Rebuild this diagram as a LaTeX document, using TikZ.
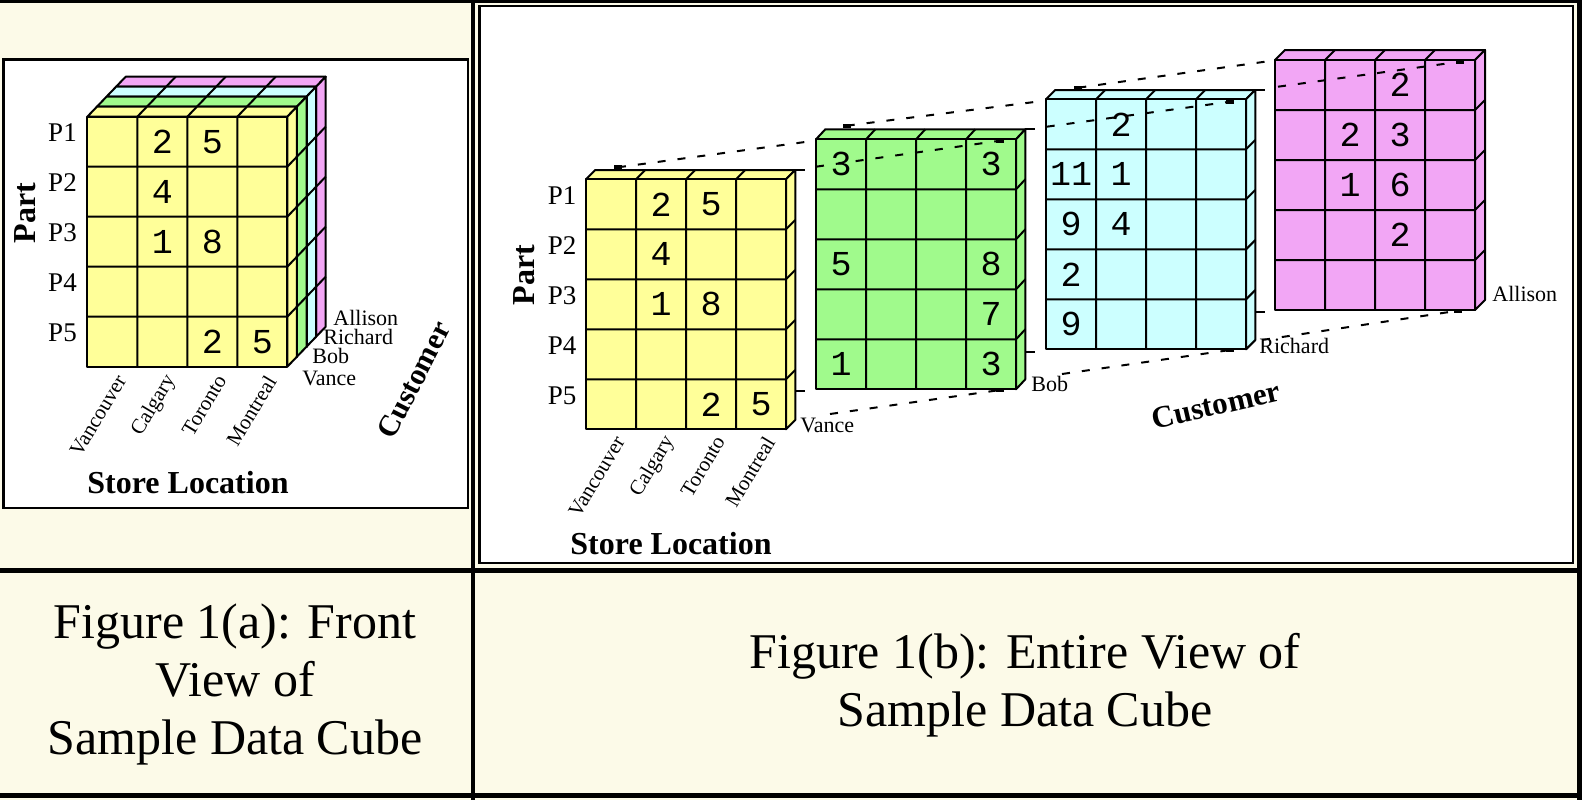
\documentclass[tikz,border=0pt]{standalone}
\usepackage{fontspec}
\setmainfont{Liberation Serif}
\newfontfamily\cellfont{Liberation Mono}
\definecolor{paper}{RGB}{252,250,232}
\definecolor{cubeyellow}{RGB}{255,255,153}
\definecolor{cubegreen}{RGB}{160,250,140}
\definecolor{cubecyan}{RGB}{204,255,255}
\definecolor{cubemagenta}{RGB}{242,166,245}

\begin{document}
\begin{tikzpicture}[x=0.5pt, y=-0.5pt,
    slabline/.style={line width=1pt, line join=round},
    cellnum/.style={font=\cellfont\fontsize{17.5}{20}\selectfont, inner sep=0pt},
    partlbl/.style={font=\fontsize{13.5}{16}\selectfont, inner sep=0pt},
    custlbl/.style={font=\fontsize{11}{13}\selectfont, inner sep=0pt, anchor=west},
    citylbl/.style={font=\fontsize{10.5}{12}\selectfont, inner sep=0pt, anchor=east, rotate=59},
    axislbl/.style={font=\bfseries\fontsize{16}{19}\selectfont, inner sep=0pt},
    cubedash/.style={line width=1pt, dash pattern=on 4pt off 6pt},
    captionlbl/.style={font=\fontsize{25}{29}\selectfont, align=center, inner sep=0pt}]
    \useasboundingbox (0,0) rectangle (1582,800);

    % Table and panels
    \fill[paper] (0,0) rectangle (1582,800);
    \draw[line width=1.25pt, fill=white] (3.3,59.7) rectangle (468,507.8);
    \draw[line width=1.25pt, fill=white] (479.5,6) rectangle (1573,563);
    \draw[line width=2pt] (473,0) -- (473,800);
    \draw[line width=2.2pt] (0,570.5) -- (1582,570.5);
    \draw[line width=1.5pt] (0,1.5) -- (1582,1.5);
    \draw[line width=2.5pt] (1579.5,0) -- (1579.5,800);
    \draw[line width=2.5pt] (0,795.5) -- (1582,795.5);

    % Slabs: front view (back to front), then the four customers
    \foreach \sx/\sy/\dx/\dy/\fillc in {
        116.1/86.7/9.6/-10/cubemagenta, 106.5/96.7/9.6/-10/cubecyan,
        96.9/106.7/9.6/-10/cubegreen, 87.3/116.7/9.6/-10/cubeyellow,
        586/179.3/9.3/-9.3/cubeyellow, 816/139.3/9.3/-10/cubegreen,
        1046/99.3/9.3/-9.3/cubecyan, 1275/60/10/-10/cubemagenta} {
      \begin{scope}[shift={(\sx,\sy)}]
        \filldraw[slabline, fill=\fillc] (0,0) -- (200,0) -- ++(\dx,\dy) -- ++(-200,0) -- cycle;
        \filldraw[slabline, fill=\fillc] (200,0) -- (200,250) -- ++(\dx,\dy) -- ++(0,-250) -- cycle;
        \filldraw[slabline, fill=\fillc] (0,0) rectangle (200,250);
        \foreach \i in {1,2,3}
          \draw[slabline] (50*\i,0) -- (50*\i,250) (50*\i,0) -- ++(\dx,\dy);
        \foreach \j in {1,...,4}
          \draw[slabline] (0,50*\j) -- (200,50*\j) -- ++(\dx,\dy);
      \end{scope}
    }

    % Ticks beside the customer slabs
    \foreach \tx/\ty/\by in {795.3/170/390.7, 1025.3/129.3/351.7, 1255.3/90/311.7}
      \draw[slabline] (\tx,\ty) -- ++(10,0) (\tx,\by) -- ++(10,0);

    % Dashed guide lines
    \coordinate (vance-top) at (618,167.3);
    \coordinate (vance-gap) at (805,142);
    \coordinate (bob-in) at (816,166.7);
    \coordinate (bob-end) at (1000,140.7);
    \coordinate (bob-top) at (846.7,125.7);
    \coordinate (bob-gap) at (1036.7,101.7);
    \coordinate (richard-in) at (1046.7,126.7);
    \coordinate (richard-end) at (1230,101.7);
    \coordinate (richard-top) at (1078.3,87.7);
    \coordinate (richard-gap) at (1265,61.7);
    \coordinate (allison-in) at (1278,86.7);
    \coordinate (allison-end) at (1460,61.7);
    \coordinate (vance-low) at (830,414);
    \coordinate (bob-low) at (1000,390);
    \coordinate (bob-foot) at (1062,374);
    \coordinate (richard-low) at (1230,350);
    \coordinate (richard-foot) at (1262,340);
    \coordinate (allison-low) at (1458,310.7);
    \draw[cubedash] (vance-top) -- (vance-gap);
    \draw[cubedash] (bob-in) -- (bob-end);
    \draw[cubedash] (bob-top) -- (bob-gap);
    \draw[cubedash] (richard-in) -- (richard-end);
    \draw[cubedash] (richard-top) -- (richard-gap);
    \draw[cubedash] (allison-in) -- (allison-end);
    \draw[cubedash] (vance-low) -- (bob-low);
    \draw[cubedash] (bob-foot) -- (richard-low);
    \draw[cubedash] (richard-foot) -- (allison-low);
    \foreach \b in {vance-top, bob-end, bob-top, richard-end, richard-top, allison-end,
                    bob-low, richard-low, allison-low}
      \fill (\b) ++(-4,-2) rectangle ++(8,4);

    % Cell values
    \foreach \r/\k/\v in {1/2/2, 1/3/5, 2/2/4, 3/2/1, 3/3/8, 5/3/2, 5/4/5} {
      \node[cellnum] (front-\r-\k) at ({87.3+50*\k-25},{116.7+50*\r-25}) {\v};
      \node[cellnum] (vance-\r-\k) at ({586+50*\k-25},{179.3+50*\r-25}) {\v};
    }
    \foreach \r/\k/\v in {1/1/3, 1/4/3, 3/1/5, 3/4/8, 4/4/7, 5/1/1, 5/4/3}
      \node[cellnum] (bob-\r-\k) at ({816+50*\k-25},{139.3+50*\r-25}) {\v};
    \foreach \r/\k/\v in {1/2/2, 2/1/11, 2/2/1, 3/1/9, 3/2/4, 4/1/2, 5/1/9}
      \node[cellnum] (richard-\r-\k) at ({1046+50*\k-25},{99.3+50*\r-25}) {\v};
    \foreach \r/\k/\v in {1/3/2, 2/2/2, 2/3/3, 3/2/1, 3/3/6, 4/3/2}
      \node[cellnum] (allison-\r-\k) at ({1275+50*\k-25},{60+50*\r-25}) {\v};

    % Part labels
    \foreach \r in {1,...,5} {
      \node[partlbl] (pa-\r) at (62.5,{116.7+50*\r-34}) {P\r};
      \node[partlbl] (pb-\r) at (562,{179.3+50*\r-34}) {P\r};
    }

    % Store location labels
    \foreach \k/\city in {1/Vancouver, 2/Calgary, 3/Toronto, 4/Montreal} {
      \node[citylbl] (citya-\k) at ({87.3+50*\k-16},377) {\city};
      \node[citylbl] (cityb-\k) at ({586+50*\k-16},438) {\city};
    }

    % Customer labels
    \node[custlbl] (allison-a) at (333,318) {Allison};
    \node[custlbl] (richard-a) at (323,337) {Richard};
    \node[custlbl] (bob-a) at (312,356) {Bob};
    \node[custlbl] (vance-a) at (302,378) {Vance};
    \node[custlbl] (vance-b) at (800,425) {Vance};
    \node[custlbl] (bob-b) at (1031,384) {Bob};
    \node[custlbl] (richard-b) at (1259,346) {Richard};
    \node[custlbl] (allison-b) at (1492,294) {Allison};

    % Axis titles
    \node[axislbl, rotate=90] (part-a) at (25,213) {Part};
    \node[axislbl] (store-a) at (188,483) {Store Location};
    \node[axislbl, font=\bfseries\fontsize{15}{18}\selectfont, rotate=63] (cust-a) at (414,380) {Customer};
    \node[axislbl, rotate=90] (part-b) at (524,275) {Part};
    \node[axislbl] (store-b) at (671,544) {Store Location};
    \node[axislbl, font=\bfseries\fontsize{15.5}{18}\selectfont, rotate=13] (cust-b) at (1216,405) {Customer};

    % Captions
    \node[captionlbl] (cap-a) at (235,684) {Figure 1(a): Front\\View of\\Sample Data Cube};
    \node[captionlbl] (cap-b) at (1025,685) {Figure 1(b): Entire View of\\Sample Data Cube};
\end{tikzpicture}
\end{document}
